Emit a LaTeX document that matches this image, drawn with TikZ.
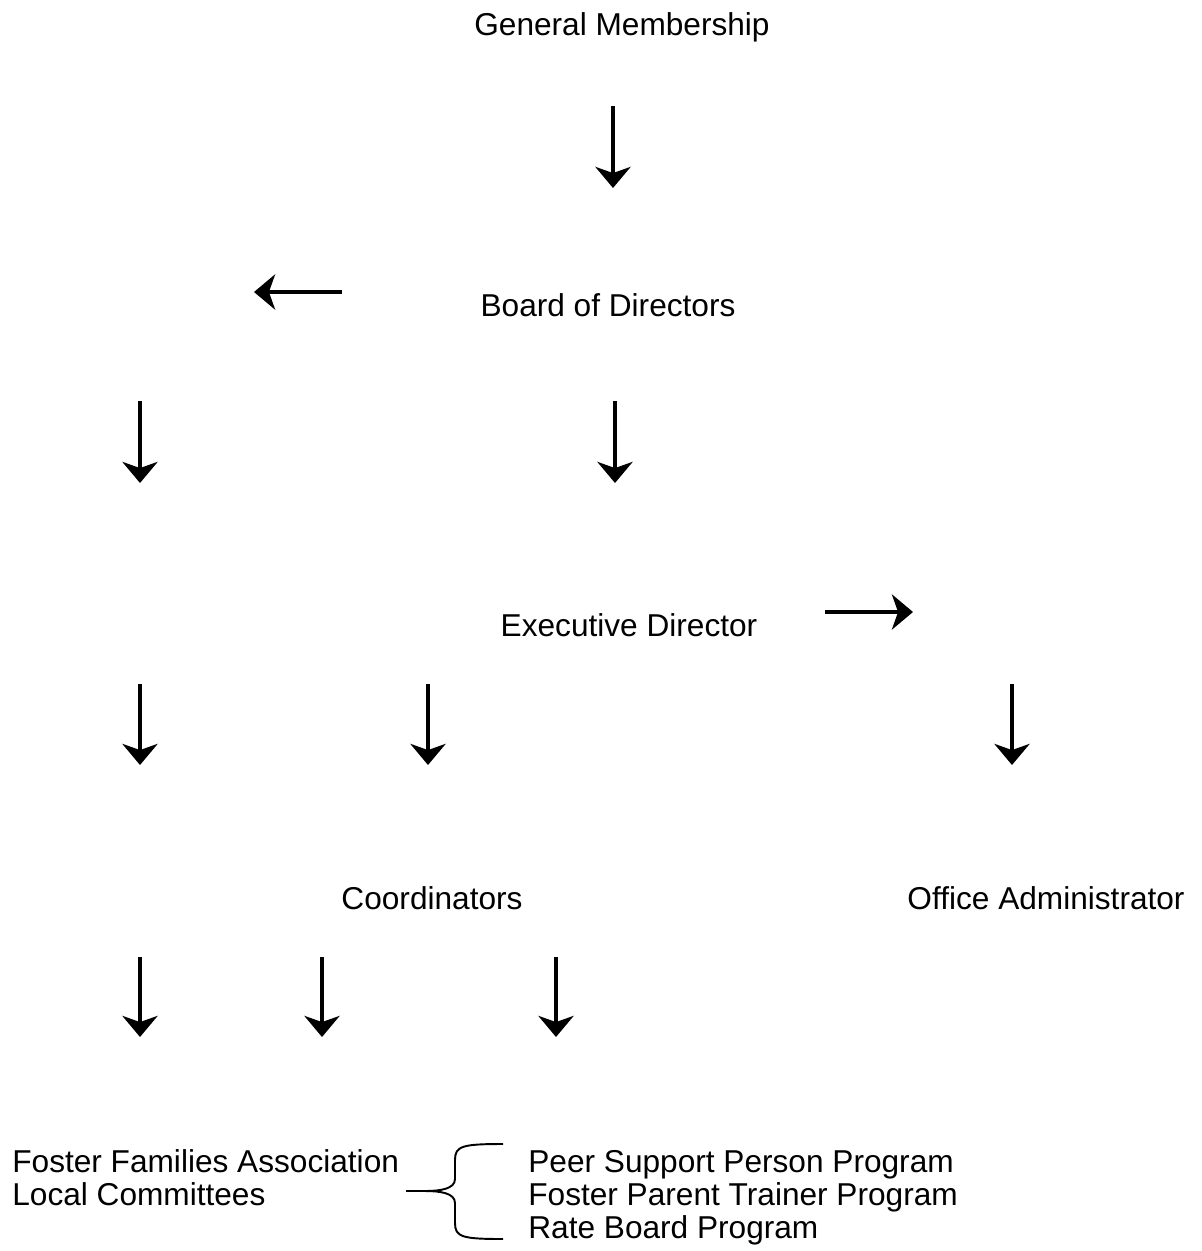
\documentclass[tikz,border=0pt]{standalone}
\usepackage{fontspec}
\setmainfont{Liberation Sans}
\usetikzlibrary{arrows.meta}
\begin{document}
\begin{tikzpicture}[x=0.02cm,y=-0.02cm,
  lbl/.style={font=\fontsize{18}{19}\selectfont, inner sep=0pt},
  arr/.style={line width=2.7pt, -{Stealth[length=12pt,width=20pt,inset=3.5pt]}},
  bracestyle/.style={line width=1.1pt}]
\useasboundingbox (0,0) rectangle (1201,1251);
% labels
\node[lbl, anchor=base] (gm) at (622,35) {General Membership};
\node[lbl, anchor=base] (bod) at (608,316) {Board of Directors};
\node[lbl, anchor=base] (ed) at (629,636) {Executive Director};
\node[lbl, anchor=base] (co) at (432,909) {Coordinators};
\node[lbl, anchor=base] (oa) at (1046,909) {Office Administrator};
\node[lbl, anchor=base west] (ffa) at (12,1172) {Foster Families Association};
\node[lbl, anchor=base west] (lc) at (12,1205) {Local Committees};
\node[lbl, anchor=base west] (psp) at (528,1172) {Peer Support Person Program};
\node[lbl, anchor=base west] (fpt) at (528,1205) {Foster Parent Trainer Program};
\node[lbl, anchor=base west] (rbp) at (528,1238) {Rate Board Program};
% arrow end points
\coordinate (a1s) at (613,106);  \coordinate (a1e) at (613,188);
\coordinate (a2s) at (342,292);  \coordinate (a2e) at (254,292);
\coordinate (a3s) at (140,401);  \coordinate (a3e) at (140,483);
\coordinate (a4s) at (615,401);  \coordinate (a4e) at (615,483);
\coordinate (a5s) at (825,612);  \coordinate (a5e) at (913,612);
\coordinate (a6s) at (140,684);  \coordinate (a6e) at (140,765);
\coordinate (a7s) at (428,684);  \coordinate (a7e) at (428,765);
\coordinate (a8s) at (1012,684); \coordinate (a8e) at (1012,765);
\coordinate (a9s) at (140,957);  \coordinate (a9e) at (140,1037);
\coordinate (a10s) at (322,957); \coordinate (a10e) at (322,1037);
\coordinate (a11s) at (556,957); \coordinate (a11e) at (556,1037);
\foreach \i in {1,...,11} {\draw[arr] (a\i s) -- (a\i e);}
% brace
\coordinate (bs) at (406,1191);
\coordinate (bc) at (425,1191);
\coordinate (bt) at (503,1144);
\coordinate (bb) at (503,1239);
\draw[bracestyle] (bs) -- (bc);
\draw[bracestyle] (bt) .. controls (462,1144) and (455,1146) .. (455,1160)
  -- (455,1179) .. controls (455,1189) and (440,1191) .. (bc);
\draw[bracestyle] (bc) .. controls (440,1191) and (455,1193) .. (455,1203)
  -- (455,1223) .. controls (455,1237) and (462,1239) .. (bb);
\end{tikzpicture}
\end{document}
